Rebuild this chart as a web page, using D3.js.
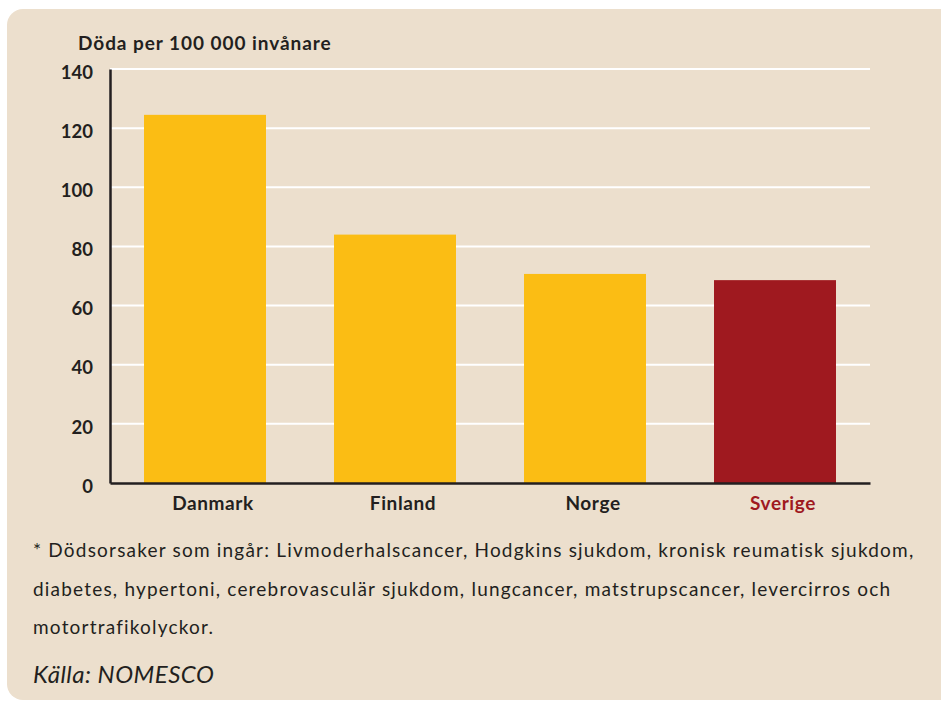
<!DOCTYPE html>
<html>
<head>
<meta charset="utf-8">
<script src="https://cdn.jsdelivr.net/npm/d3@7"></script>
<style>
  body { margin: 0; background: #fff; }
  svg text { font-family: Lato, "Open Sans", sans-serif; fill: #231f20; }
</style>
</head>
<body>
<div class="chart"></div>
<script>
/* data */
const countries = ['Danmark', 'Finland', 'Norge', 'Sverige']
const deaths = [124.5, 84, 70.7, 68.6]
const yTicks = [0, 20, 40, 60, 80, 100, 120, 140]
const footLines = [
    '* Dödsorsaker som ingår: Livmoderhalscancer, Hodgkins sjukdom, kronisk reumatisk sjukdom,',
    'diabetes, hypertoni, cerebrovasculär sjukdom, lungcancer, matstrupscancer, levercirros och',
    'motortrafikolyckor.'
]
const source = 'Källa: NOMESCO'

const width = 941
const height = 704
const plot = { left: 110, right: 870, top: 69, bottom: 483 }

const svg = d3.select('.chart')
    .append('svg')
    .attr('width', width)
    .attr('height', height)

// beige panel
svg.append('rect')
    .attr('x', 7)
    .attr('y', 9)
    .attr('width', width + 20)
    .attr('height', 691)
    .attr('rx', 16)
    .style('fill', '#ecdfcd')

const x = d3.scaleBand()
    .domain(countries)
    .range([plot.left, plot.right])
    .paddingInner(0.358)
    .paddingOuter(0.179)

const y = d3.scaleLinear()
    .domain([0, 140])
    .range([plot.bottom, plot.top])

// grid lines
svg.selectAll('.grid')
    .data(yTicks.filter(d => d > 0))
    .enter().append('line')
    .attr('x1', plot.left)
    .attr('x2', plot.right)
    .attr('y1', d => y(d))
    .attr('y2', d => y(d))
    .style('stroke', '#fff')
    .style('stroke-width', 2)

// bars
svg.selectAll('.bar')
    .data(countries)
    .enter().append('rect')
    .attr('x', d => x(d))
    .attr('y', (d, i) => y(deaths[i]))
    .attr('width', x.bandwidth())
    .attr('height', (d, i) => y(0) - y(deaths[i]))
    .style('fill', d => d === 'Sverige' ? '#9f191f' : '#fbbd14')

// y axis
const yAxis = svg.append('g')
    .attr('transform', 'translate(' + plot.left + ',0)')
    .call(d3.axisLeft(y).tickValues(yTicks).tickSize(0).tickPadding(17))
yAxis.select('.domain').style('stroke', '#231f20').style('stroke-width', 2.5)
yAxis.selectAll('text')
    .style('font-size', '18.5px')
    .style('font-weight', 'bold')
    .attr('dy', '0.5em')

// x axis
const xAxis = svg.append('g')
    .attr('transform', 'translate(0,' + plot.bottom + ')')
    .call(d3.axisBottom(x).tickSize(0).tickPadding(14))
xAxis.select('.domain').style('stroke', '#231f20').style('stroke-width', 2.5)
xAxis.selectAll('text')
    .attr('dx', 8)
    .style('font-size', '19px')
    .style('font-weight', 'bold')
    .style('letter-spacing', '0.6px')
    .style('fill', d => d === 'Sverige' ? '#9f191f' : '#231f20')

// title
svg.append('text')
    .attr('x', 78)
    .attr('y', 50)
    .style('font-size', '19px')
    .style('font-weight', 'bold')
    .style('letter-spacing', '0.95px')
    .text('Döda per 100 000 invånare')

// footnote
svg.selectAll('.foot')
    .data(footLines)
    .enter().append('text')
    .attr('x', 33)
    .attr('y', (d, i) => 557 + i * 38.5)
    .style('font-size', '19px')
    .style('letter-spacing', '1.2px')
    .text(d => d)

svg.append('text')
    .attr('x', 33)
    .attr('y', 683)
    .style('font-size', '24px')
    .style('font-style', 'italic')
    .style('letter-spacing', '0.5px')
    .text(source)
</script>
</body>
</html>
